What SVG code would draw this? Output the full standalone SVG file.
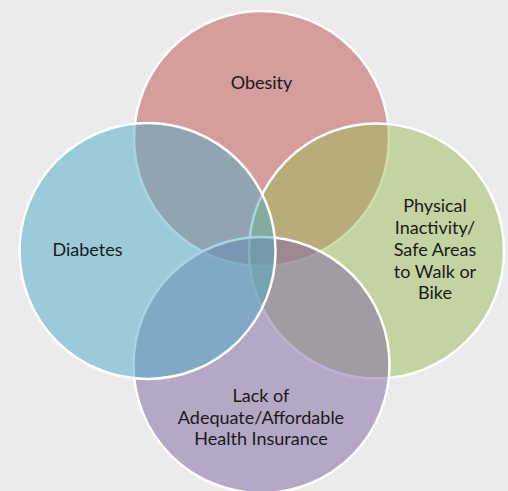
<svg xmlns="http://www.w3.org/2000/svg" width="508" height="491" viewBox="0 0 508 491">
  <style>
    .c { stroke: #ffffff; stroke-width: 2.5; fill-opacity: 0.5; }
    .t { font-family: Lato, "Open Sans", "Liberation Sans", sans-serif; font-size: 18px; fill: #1a1a1a; text-anchor: middle; }
  </style>
  <rect x="0" y="0" width="508" height="491" fill="#ebebeb"/>
  <g id="obesity">
    <circle class="c" cx="261.5" cy="138.5" r="127.5" fill="#c0504d"/>
  </g>
  <g id="physical">
    <circle class="c" cx="376.5" cy="251" r="127.5" fill="#9bbb59"/>
  </g>
  <g id="insurance">
    <circle class="c" cx="261.5" cy="365" r="128" fill="#8064a2"/>
  </g>
  <g id="diabetes">
    <circle class="c" cx="147.5" cy="251" r="128" fill="#4bacc6"/>
  </g>
  <g id="connectors"></g>
  <g id="labels">
    <text class="t" x="261.5" y="89">Obesity</text>
    <text class="t" x="87.5" y="256">Diabetes</text>
    <text class="t" x="435" y="212">Physical</text>
    <text class="t" x="435" y="234">Inactivity/</text>
    <text class="t" x="435" y="256">Safe Areas</text>
    <text class="t" x="435" y="277.5">to Walk or</text>
    <text class="t" x="435" y="299">Bike</text>
    <text class="t" x="261" y="402">Lack of</text>
    <text class="t" x="261" y="423.5">Adequate/Affordable</text>
    <text class="t" x="261" y="444.5">Health Insurance</text>
  </g>
</svg>
